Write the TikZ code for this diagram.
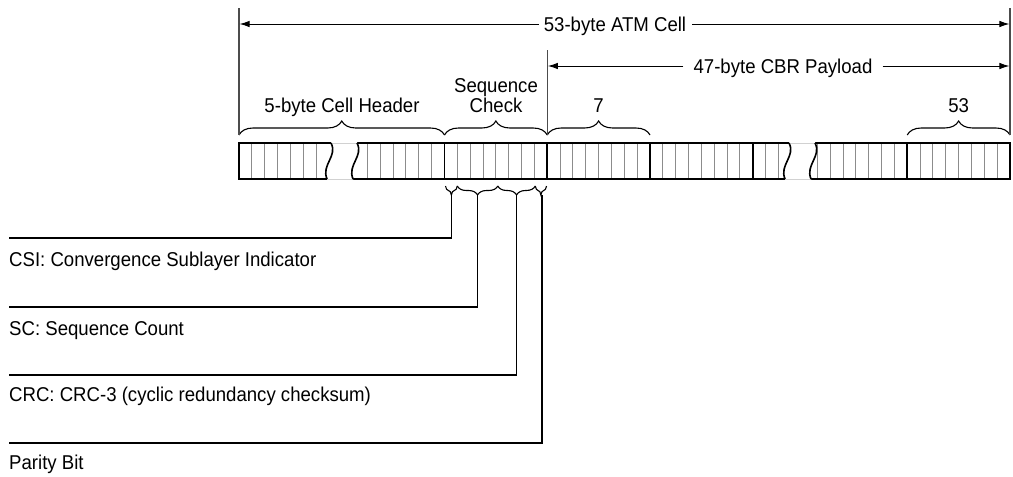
\documentclass[tikz,border=0pt]{standalone}
\usepackage{fontspec}
\setmainfont{Liberation Sans}[FakeStretch=0.93]
\usetikzlibrary{decorations.pathreplacing,arrows.meta}
\begin{document}
\begin{tikzpicture}[x=1pt,y=-1pt,
  lbl/.style={inner sep=0pt,font=\fontsize{20}{24}\selectfont},
  dimlbl/.style={lbl,text height=14pt,text depth=0pt},
  bitline/.style={draw=black!45,line width=1pt},
  byteline/.style={draw=black,line width=1.8pt},
  border/.style={draw=black,line width=1.8pt},
  gapline/.style={draw=black!18,line width=0.8pt},
  wavy/.style={draw=black,line width=1.6pt},
  dimarrow/.style={draw=black,line width=0.9pt,-{Latex[length=10pt,width=6.5pt]}},
  ext/.style={draw=black!70,line width=1.2pt},
  topbrace/.style={draw=black,line width=1.1pt,decorate,decoration={brace,amplitude=14pt}},
  botbrace/.style={draw=black,line width=1.1pt,decorate,decoration={brace,mirror,amplitude=9pt}},
  lead/.style={draw=black,line width=1.2pt},
]
\useasboundingbox (0,0) rectangle (1013,477);
\def\bw{12.84375}
% ---- bit lines ----
\foreach \k in {1,...,6} \draw[bitline] (239+\k*\bw,143) -- (239+\k*\bw,179);
\foreach \k in {10,...,42} \draw[bitline] (239+\k*\bw,143) -- (239+\k*\bw,179);
\foreach \k in {1,...,15} \draw[bitline] (1010-\k*\bw,143) -- (1010-\k*\bw,179);
% ---- byte lines ----
\foreach \x in {239,444.5,547.25,650,752.75,907.25,1010} \draw[byteline] (\x,143) -- (\x,179);
% ---- borders ----
\draw[border] (238.1,143) -- (1010.9,143);
\draw[border] (238.1,179) -- (1010.9,179);
% ---- breaks ----
\foreach \o in {0,458} {
  \fill[white] (331+\o,140) -- (331+\o,143) .. controls (338+\o,156) and (321+\o,165) .. (327+\o,179)
     -- (327+\o,182) -- (353+\o,182) -- (353+\o,179) .. controls (347+\o,165) and (364+\o,156) .. (357+\o,143)
     -- (357+\o,140) -- cycle;
  \draw[gapline] (331+\o,143) -- (357+\o,143);
  \draw[gapline] (327+\o,179) -- (353+\o,179);
  \draw[wavy] (331+\o,143) .. controls (338+\o,156) and (321+\o,165) .. (327+\o,179);
  \draw[wavy] (357+\o,143) .. controls (364+\o,156) and (347+\o,165) .. (353+\o,179);
}
% ---- top braces ----
\draw[topbrace] (239,135) -- (444.5,135);
\draw[topbrace] (444.5,135) -- (547.25,135);
\draw[topbrace] (547.25,135) -- (650,135);
\draw[topbrace] (907.25,135) -- (1010,135);
% ---- bottom braces ----
\draw[botbrace] (445.5,186) -- (457.3,186);
\draw[botbrace] (457.3,186) -- (497.8,186);
\draw[botbrace] (497.8,186) -- (535.3,186);
\draw[botbrace] (535.3,186) -- (546.5,186);
% ---- labels over braces ----
\node[lbl,anchor=base] (hdr) at (342,112) {5-byte Cell Header};
\node[lbl,anchor=base] (seqa) at (496,92) {Sequence};
\node[lbl,anchor=base] (seqb) at (496,112) {Check};
\node[lbl,anchor=base] (b7) at (598.6,112) {7};
\node[lbl,anchor=base] (b53) at (958.6,112) {53};
% ---- dimension lines ----
\coordinate (lt) at (239,8);
\coordinate (lb) at (239,135);
\coordinate (rt) at (1010,8);
\coordinate (rb) at (1010,135);
\coordinate (mt) at (547.25,50);
\coordinate (mb) at (547.25,135);
\draw[ext] (lt) -- (lb);
\draw[ext] (rt) -- (rb);
\draw[ext] (mt) -- (mb);
\node[dimlbl] (atm) at (615,24) {53-byte ATM Cell};
\node[dimlbl] (cbr) at (783,66) {47-byte CBR Payload};
\coordinate (atmL) at (239.6,24);
\coordinate (atmR) at (1009.4,24);
\coordinate (cbrL) at (547.9,66);
\coordinate (cbrR) at (1009.4,66);
\draw[dimarrow] ([xshift=-5pt]atm.west) -- (atmL);
\draw[dimarrow] ([xshift=6pt]atm.east) -- (atmR);
\draw[dimarrow] ([xshift=-10pt]cbr.west) -- (cbrL);
\draw[dimarrow] ([xshift=10pt]cbr.east) -- (cbrR);
% ---- leaders ----
\coordinate (t1) at (451.4,195);
\coordinate (t2) at (477.5,195);
\coordinate (t3) at (516.5,195);
\coordinate (t4) at (541.9,195);
\coordinate (e1) at (9,238);
\coordinate (e2) at (9,307);
\coordinate (e3) at (9,375);
\coordinate (e4) at (9,443);
\draw[lead] (t1) |- (e1);
\draw[lead] (t2) |- (e2);
\draw[lead] (t3) |- (e3);
\draw[lead] (t4) |- (e4);
\node[lbl,anchor=base west] (csi) at (9,266) {CSI: Convergence Sublayer Indicator};
\node[lbl,anchor=base west] (sc) at (9,335) {SC: Sequence Count};
\node[lbl,anchor=base west] (crc) at (9,401) {CRC: CRC-3 (cyclic redundancy checksum)};
\node[lbl,anchor=base west] (par) at (9,469) {Parity Bit};
\end{tikzpicture}
\end{document}
